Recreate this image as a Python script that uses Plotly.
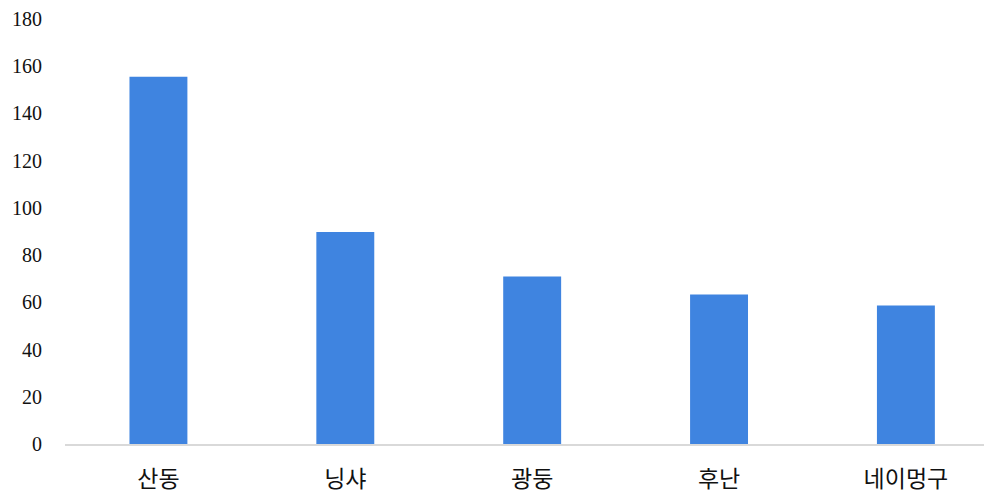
import plotly.graph_objects as go

categories = ["산동", "닝샤", "광둥", "후난", "네이멍구"]
values = [155.5, 89.8, 70.9, 63.3, 58.7]
y_ticks = [0, 20, 40, 60, 80, 100, 120, 140, 160, 180]

fig = go.Figure()
fig.add_trace(go.Bar(
    x=list(range(len(categories))),
    y=values,
    width=0.31,
    marker=dict(color="#3f84e0", line=dict(width=0)),
))

fig.update_layout(
    width=984, height=485,
    margin=dict(l=57, r=2, t=11, b=49),
    paper_bgcolor="white", plot_bgcolor="white",
    showlegend=False,
    xaxis=dict(
        range=[-0.5, 4.45],
        tickmode="array",
        tickvals=list(range(len(categories))),
        ticktext=categories,
        tickfont=dict(family="Noto Sans CJK KR", size=23, color="#111111"),
        showgrid=False, zeroline=False,
        showline=True, linecolor="#d9d9d9", linewidth=2,
        ticks="", ticklabelstandoff=13,
        ticklabeloverflow="allow",
        automargin=False,
    ),
    yaxis=dict(
        range=[0, 180],
        tickmode="array",
        tickvals=y_ticks,
        tickfont=dict(family="Liberation Serif", size=20, color="#111111"),
        showgrid=False, zeroline=False, showline=False,
        ticks="", ticklabelstandoff=22,
        ticklabeloverflow="allow",
        automargin=False,
    ),
)

fig.write_html("out.html")
